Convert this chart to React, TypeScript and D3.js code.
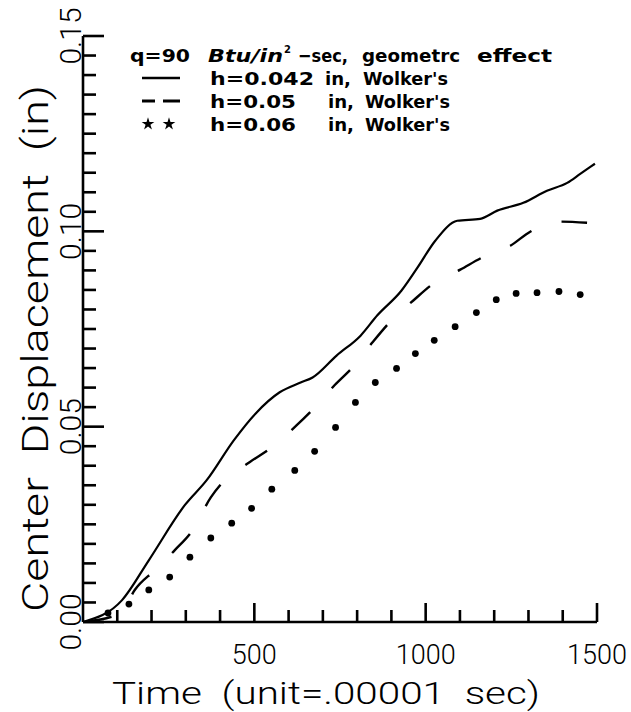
import React from 'react';
import * as d3 from 'd3';

// ---- data ----
const solidSeries: [number, number][] = [
  [0, 0], [114, 0.0056], [192, 0.0158], [297, 0.0299], [361, 0.0363], [440, 0.0465],
  [504, 0.0534], [574, 0.0588], [635, 0.0613], [670, 0.0626], [740, 0.0682], [810, 0.0733],
  [859, 0.0785], [929, 0.0848], [976, 0.0907], [1028, 0.0976], [1092, 0.1027], [1159, 0.1032],
  [1209, 0.1053], [1285, 0.1073], [1354, 0.1104], [1413, 0.1124], [1451, 0.1147], [1494, 0.1173],
];
const dashedSeries: [number, number][] = [
  [0, 0], [111, 0.0023], [151, 0.0082], [210, 0.0133], [268, 0.0184], [320, 0.0235],
  [373, 0.0319], [405, 0.0355], [486, 0.0409], [551, 0.0447], [623, 0.0503], [676, 0.0549],
  [734, 0.0606], [792, 0.0657], [845, 0.0716], [900, 0.0772], [964, 0.0823], [1022, 0.0866],
  [1101, 0.0902], [1165, 0.0933], [1247, 0.0963], [1305, 0.0999], [1387, 0.1025], [1471, 0.1022],
];
const dotSeries: [number, number][] = [
  [73, 0.0023], [134, 0.0046], [192, 0.0082], [253, 0.0115], [312, 0.0166], [373, 0.0215],
  [434, 0.0253], [492, 0.0291], [551, 0.034], [618, 0.0388], [676, 0.0437], [737, 0.0498],
  [795, 0.0562], [853, 0.0613], [915, 0.0649], [970, 0.0687], [1025, 0.0721], [1086, 0.0756],
  [1148, 0.0792], [1206, 0.0825], [1264, 0.0841], [1325, 0.0843], [1389, 0.0846], [1451, 0.0838],
];

const xTickLabels = [500, 1000, 1500];
const yTickLabels = ['0.00', '0.05', '0.10', '0.15'];
const yTickValues = [0, 0.05, 0.1, 0.15];
const legendHeader = ['q=90', 'Btu/in', '2', '\u2212sec,', 'geometrc', 'effect'];
const legendH = ['h=0.042', 'h=0.05', 'h=0.06'];
const xTitle = 'Time  (unit=.00001  sec)';
const yTitle = 'Center  Displacement  (in)';

export default function App() {
  const W = 631, H = 712;
  const x = d3.scaleLinear().domain([0, 1500]).range([83, 597]);
  const y = d3.scaleLinear().domain([0, 0.15]).range([622, 36]);

  const line = d3.line<[number, number]>()
    .x(d => x(d[0]))
    .y(d => y(d[1]))
    .curve(d3.curveMonotoneX);

  const yMinor = d3.range(0, 31).map(i => i * 0.005);
  const xMinor = d3.range(1, 16).map(i => i * 100);

  const axisFont = 'Roboto, "Liberation Sans", sans-serif';
  const legFont = '"DejaVu Sans", sans-serif';
  const sw = 2.6;
  const pre = { whiteSpace: 'pre' as const };

  const legY = [62, 85, 108, 131];

  return (
    <svg width={W} height={H} viewBox={`0 0 ${W} ${H}`}
      style={{ position: 'absolute', left: 0, top: 0, background: '#fff' }}>
      <rect x={0} y={0} width={W} height={H} fill="#fff" />
      {/* axes */}
      <line x1={x(0)} y1={y(0)} x2={x(0)} y2={y(0.15)} stroke="#000" strokeWidth={sw} />
      <line x1={x(0)} y1={y(0)} x2={x(1500)} y2={y(0)} stroke="#000" strokeWidth={sw} />
      {yMinor.map((v, i) => {
        const major = i % 10 === 0;
        return <line key={'yt' + i} x1={x(0)} x2={x(0) + (major ? 21 : 13)} y1={y(v)} y2={y(v)}
          stroke="#000" strokeWidth={sw} />;
      })}
      {xMinor.map((t, i) => {
        const major = t % 500 === 0;
        return <line key={'xt' + i} x1={x(t)} x2={x(t)} y1={y(0)} y2={y(0) - (major ? 19 : 12)}
          stroke="#000" strokeWidth={sw} />;
      })}
      {/* tick labels */}
      {xTickLabels.map(t => (
        <text key={'xl' + t} x={x(t)} y={664} textAnchor="middle" fontFamily={axisFont}
          fontWeight={300} fontSize={27} fill="#000">{t}</text>
      ))}
      {yTickLabels.map((s, i) => (
        <text key={'yl' + s} transform={`translate(${81},${y(yTickValues[i])}) rotate(-90)`}
          textAnchor="middle" fontFamily={axisFont} fontWeight={300} fontSize={30} fill="#000">{s}</text>
      ))}
      {/* titles */}
      <text x={112} y={704} fontFamily={axisFont} fontWeight={300} style={pre}
        fontSize={32} textLength={428} lengthAdjust="spacingAndGlyphs" fill="#000">{xTitle}</text>
      <text transform={`translate(48,612) rotate(-90)`} fontFamily={axisFont} style={pre}
        fontWeight={300} fontSize={36} textLength={527} lengthAdjust="spacingAndGlyphs" fill="#000">{yTitle}</text>

      {/* series */}
      <path d={line(solidSeries) || ''} fill="none" stroke="#000" strokeWidth={2.2} />
      <path d={line(dashedSeries) || ''} fill="none" stroke="#000" strokeWidth={2.4}
        strokeDasharray="26 32" strokeDashoffset={-3} />
      {dotSeries.map((d, i) => (
        <circle key={'dot' + i} cx={x(d[0])} cy={y(d[1])} r={3.4} fill="#000" />
      ))}

      {/* legend */}
      <g fontFamily={legFont} fontWeight="bold" fontSize={18} fill="#000">
        <text x={130} y={legY[0]} textLength={60} lengthAdjust="spacingAndGlyphs">{legendHeader[0]}</text>
        <text x={208} y={legY[0]} textLength={75} lengthAdjust="spacingAndGlyphs" fontStyle="italic">{legendHeader[1]}</text>
        <text x={284} y={legY[0] - 9} fontSize={10}>{legendHeader[2]}</text>
        <text x={298} y={legY[0]} textLength={50} lengthAdjust="spacingAndGlyphs">{legendHeader[3]}</text>
        <text x={362} y={legY[0]} textLength={98} lengthAdjust="spacingAndGlyphs">{legendHeader[4]}</text>
        <text x={477} y={legY[0]} textLength={75} lengthAdjust="spacingAndGlyphs">{legendHeader[5]}</text>

        <line x1={142} x2={180} y1={78} y2={78} stroke="#000" strokeWidth={2.6} />
        <line x1={142} x2={155} y1={101} y2={101} stroke="#000" strokeWidth={3} />
        <line x1={163} x2={180} y1={101} y2={101} stroke="#000" strokeWidth={3} />
        <path d={d3.symbol(d3.symbolStar, 50)() || ''} transform={`translate(148,124)`} fill="#000" />
        <path d={d3.symbol(d3.symbolStar, 50)() || ''} transform={`translate(169,124)`} fill="#000" />

        {legendH.map((s, i) => (
          <g key={'lg' + i}>
            <text x={210} y={legY[i + 1]} textLength={i === 0 ? 104 : 86} lengthAdjust="spacingAndGlyphs">{s}</text>
            <text x={i === 0 ? 325 : 328} y={legY[i + 1]} textLength={26} lengthAdjust="spacingAndGlyphs">in,</text>
            <text x={i === 0 ? 363 : 365} y={legY[i + 1]} textLength={85} lengthAdjust="spacingAndGlyphs">Wolker's</text>
          </g>
        ))}
      </g>
    </svg>
  );
}
